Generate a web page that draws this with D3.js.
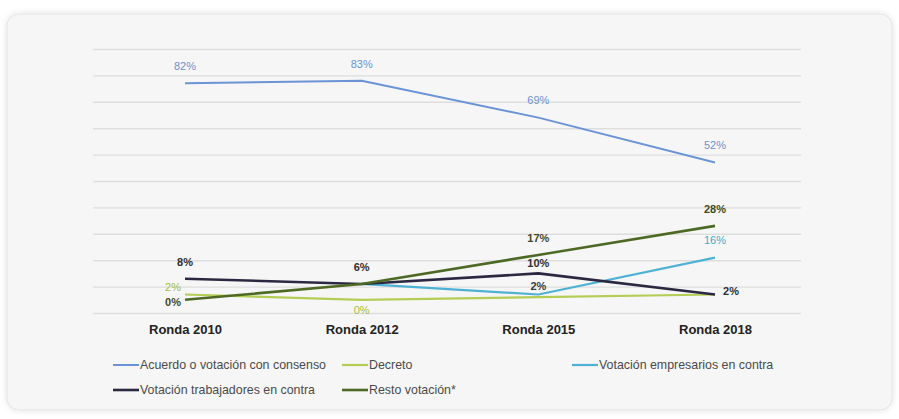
<!DOCTYPE html>
<html lang="es">
<head>
<meta charset="utf-8">
<title>Forma de fijación del salario mínimo por ronda</title>
<script src="https://cdn.jsdelivr.net/npm/d3@7/dist/d3.min.js"></script>
<style>
  html, body { margin: 0; padding: 0; background: #ffffff; }
  svg { display: block; font-family: "Liberation Sans", Arial, sans-serif; }
</style>
</head>
<body>
<svg id="chart" width="899" height="419"></svg>
<script>
// Rounds shown on the horizontal axis
const categories = ["Ronda 2010", "Ronda 2012", "Ronda 2015", "Ronda 2018"];

// Share of each outcome per round (%)
const acuerdo      = [82, 83, 69, 52];
const decreto      = [2, 0, 1, 2];
const empresarios  = [null, 6, 2, 16];
const trabajadores = [8, 6, 10, 2];
const resto        = [0, 6, 17, 28];

// Legend names
const seriesNames = [
  "Acuerdo o votación con consenso",
  "Decreto",
  "Votación empresarios en contra",
  "Votación trabajadores en contra",
  "Resto votación*"
];

// Gridline positions on the value axis
const gridTicks = [-5, 5, 15, 25, 35, 45, 55, 65, 75, 85, 95];

// Styling per series
const styles = [
  { color: "#6b94d6", labelColor: "#6d93cf", weight: "normal", width: 2 },
  { color: "#b3cd55", labelColor: "#a3bd3c", weight: "normal", width: 2.2 },
  { color: "#4fb1d3", labelColor: "#45a9cc", weight: "normal", width: 2.2 },
  { color: "#2c2842", labelColor: "#2e2e2e", weight: "bold",   width: 2.6 },
  { color: "#4d6a24", labelColor: "#3f4a22", weight: "bold",   width: 2.6 }
];

// Where each value label sits relative to its point (null = no label)
const place = {
  above: [0, -17], near: [0, -10], low: [0, -8],
  left: [-12, 2], leftUp: [-12, -7], below: [0, 10], right: [16, -3]
};
const labelPlacement = [
  ["above", "above", "above", "above"],
  ["leftUp", "below", null, null],
  [null, null, "low", "above"],
  ["above", "above", "near", "right"],
  ["left", null, "above", "above"]
];
// Labels drawn in a darker ink than their series
const darkLabels = [
  [false, false, false, false],
  [false, false, false, false],
  [false, false, true, false],
  [false, false, false, false],
  [false, false, false, false]
];

const seriesValues = [acuerdo, decreto, empresarios, trabajadores, resto];

const svg = d3.select("#chart");

// Card background with soft shadow
const defs = svg.append("defs");
const shadow = defs.append("filter").attr("id", "cardShadow")
  .attr("x", "-5%").attr("y", "-5%").attr("width", "110%").attr("height", "110%");
shadow.append("feDropShadow").attr("dx", 0).attr("dy", 0)
  .attr("stdDeviation", 3).attr("flood-color", "#000").attr("flood-opacity", 0.12);

svg.append("rect")
  .attr("x", 7).attr("y", 14).attr("width", 885).attr("height", 396)
  .attr("rx", 12).attr("ry", 12)
  .attr("fill", "#f6f6f6").attr("stroke", "#e4e4e4").attr("stroke-width", 1)
  .attr("filter", "url(#cardShadow)");

// Scales
const x = d3.scalePoint().domain(categories).range([185, 715]);
const y = d3.scaleLinear().domain([-5, 95]).range([313, 49]);
const gridLeft = 93, gridRight = 801;

// Horizontal gridlines
const grid = svg.append("g")
  .attr("transform", `translate(${gridLeft},0)`)
  .call(d3.axisLeft(y).tickValues(gridTicks).tickSize(-(gridRight - gridLeft)).tickFormat(""));
grid.select(".domain").remove();
grid.selectAll(".tick line")
  .attr("stroke", "#dedede").attr("stroke-width", 1.4);

// Category axis labels
const xAxis = svg.append("g")
  .attr("transform", `translate(0,${y(-5)})`)
  .call(d3.axisBottom(x).tickSize(0).tickPadding(12));
xAxis.select(".domain").remove();
xAxis.selectAll("text")
  .attr("font-family", "'Liberation Sans', Arial, sans-serif")
  .attr("font-size", 13).attr("font-weight", "bold").attr("fill", "#222");

// Series lines
const line = d3.line()
  .defined(d => d != null)
  .x((d, i) => x(categories[i]))
  .y(d => y(d));

seriesValues.forEach((vals, s) => {
  svg.append("path")
    .datum(vals)
    .attr("fill", "none")
    .attr("stroke", styles[s].color)
    .attr("stroke-width", styles[s].width)
    .attr("stroke-linejoin", "round")
    .attr("d", line);
});

// Value labels
seriesValues.forEach((vals, s) => {
  const pts = vals.map((v, i) => ({ v, i, p: labelPlacement[s][i] }))
    .filter(d => d.v != null && d.p != null);
  svg.append("g").selectAll("text")
    .data(pts)
    .join("text")
    .attr("x", d => x(categories[d.i]) + place[d.p][0])
    .attr("y", d => y(d.v) + place[d.p][1])
    .attr("dy", "0.35em")
    .attr("text-anchor", "middle")
    .attr("font-size", 11)
    .attr("font-weight", d => darkLabels[s][d.i] ? "bold" : styles[s].weight)
    .attr("fill", d => darkLabels[s][d.i] ? "#3a3a3a" : styles[s].labelColor)
    .text(d => d.v + "%");
});

// Legend
const legendPos = [
  [113, 365], [342, 365], [572, 365],
  [113, 390], [342, 390]
];
const legend = svg.append("g").selectAll("g")
  .data(seriesNames)
  .join("g")
  .attr("transform", (d, i) => `translate(${legendPos[i][0]},${legendPos[i][1]})`);
legend.append("line")
  .attr("x1", 0).attr("x2", 26).attr("y1", 0).attr("y2", 0)
  .attr("stroke", (d, i) => styles[i].color)
  .attr("stroke-width", (d, i) => styles[i].width);
legend.append("text")
  .attr("x", 27).attr("dy", "0.35em")
  .attr("font-size", 12.4).attr("fill", "#4a4a4a")
  .text(d => d);
</script>
</body>
</html>
